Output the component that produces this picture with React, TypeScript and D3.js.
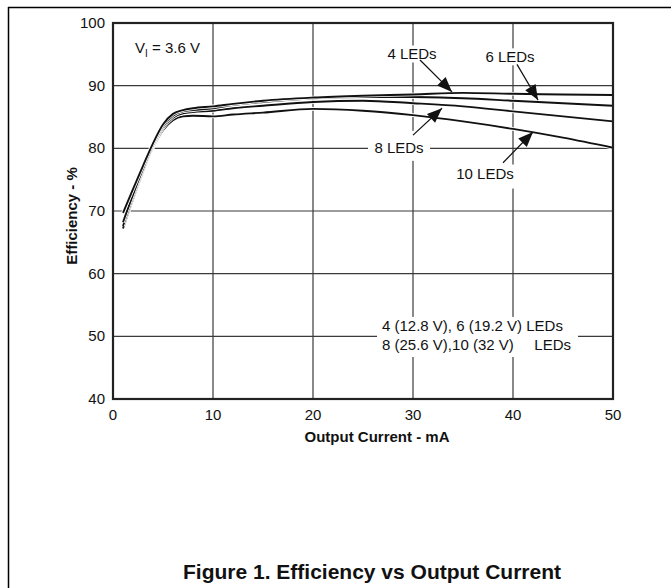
import React from "react";
import * as d3 from "d3";

// output current (mA) sampled along the curves
const current = [1, 2, 3, 4, 5, 6, 7, 8, 10, 12, 15, 20, 25, 30, 35, 40, 45, 50];

// efficiency (%)
const eff4 = [69.7, 73.5, 77.2, 80.8, 83.8, 85.5, 86.1, 86.4, 86.7, 87.1, 87.6, 88.1, 88.4, 88.6, 88.85, 88.7, 88.6, 88.5];
const eff6 = [68.2, 72.6, 76.7, 80.5, 83.5, 85.2, 85.9, 86.1, 86.4, 86.9, 87.4, 88.0, 88.2, 88.2, 88.0, 87.6, 87.2, 86.8];
const eff8 = [67.6, 72.2, 76.4, 80.3, 83.2, 84.9, 85.6, 85.8, 86.0, 86.4, 86.8, 87.4, 87.6, 87.2, 86.7, 85.9, 85.1, 84.3];
const eff10 = [67.2, 71.9, 76.2, 80.1, 82.9, 84.5, 85.1, 85.2, 85.1, 85.4, 85.7, 86.3, 86.0, 85.3, 84.3, 83.1, 81.7, 80.1];

const xTicks = [0, 10, 20, 30, 40, 50];
const yTicks = [40, 50, 60, 70, 80, 90, 100];

// curve labels with arrows, in data units: [text x, text y, arrow from x, y, arrow to x, y]
const labels = [
  { text: "4 LEDs", at: [29.9, 95.05], from: [30.7, 94.1], to: [33.9, 89.0] },
  { text: "6 LEDs", at: [39.7, 94.6], from: [40.4, 93.4], to: [42.5, 87.7] },
  { text: "8 LEDs", at: [28.6, 80.0], from: [30.0, 82.1], to: [32.9, 86.4] },
  { text: "10 LEDs", at: [37.2, 75.9], from: [39.0, 77.7], to: [42.0, 82.6] },
];

const W = 671;
const H = 588;
const font = "Arial, 'Liberation Sans', sans-serif";

function arrowHead(x1: number, y1: number, x2: number, y2: number) {
  const a = Math.atan2(y2 - y1, x2 - x1);
  const len = 15;
  const half = 6;
  const bx = x2 - len * Math.cos(a);
  const by = y2 - len * Math.sin(a);
  const px = -Math.sin(a) * half;
  const py = Math.cos(a) * half;
  return `M${x2},${y2}L${bx + px},${by + py}L${bx - px},${by - py}Z`;
}

export default function App() {
  const margin = { left: 113, right: 613, top: 23, bottom: 399 };
  const x = d3.scaleLinear().domain([0, 50]).range([margin.left, margin.right]);
  const y = d3.scaleLinear().domain([40, 100]).range([margin.bottom, margin.top]);

  const series = [eff10, eff8, eff6, eff4];
  const line = d3
    .line<number>()
    .x((_, i) => x(current[i]))
    .y((d) => y(d))
    .curve(d3.curveMonotoneX);

  const textBox = (cx: number, cy: number, w: number, h: number) => (
    <rect x={x(cx) - w / 2} y={y(cy) - h / 2} width={w} height={h} fill="#fff" />
  );

  return (
    <svg
      width={W}
      height={H}
      style={{ position: "absolute", left: 0, top: 0, background: "#fff" }}
      fontFamily={font}
    >
      {/* page frame */}
      <line x1={8} y1={7.5} x2={W} y2={7.5} stroke="#000" strokeWidth={1.5} />
      <line x1={8.5} y1={7} x2={8.5} y2={H} stroke="#000" strokeWidth={1.5} />

      {/* grid */}
      {xTicks.slice(1, -1).map((t) => (
        <line key={"gx" + t} x1={x(t)} x2={x(t)} y1={y(100)} y2={y(40)} stroke="#3a3a3a" strokeWidth={1.2} />
      ))}
      {yTicks.slice(1, -1).map((t) => (
        <line key={"gy" + t} x1={x(0)} x2={x(50)} y1={y(t)} y2={y(t)} stroke="#3a3a3a" strokeWidth={1.2} />
      ))}

      {/* white patches behind the texts */}
      {textBox(29.9, 95.05, 54, 17)}
      {textBox(39.7, 94.6, 54, 17)}
      {textBox(28.6, 80.4, 62, 30)}
      {textBox(37.2, 75.5, 66, 24)}
      <rect x={x(26.4)} y={y(53.1)} width={x(46.5) - x(26.4)} height={y(46.7) - y(53.1)} fill="#fff" />

      {/* curves */}
      {series.map((s, i) => (
        <g key={"s" + i}>
          <path d={line(s) || ""} fill="none" stroke="#fff" strokeWidth={3.6} />
          <path d={line(s) || ""} fill="none" stroke="#111" strokeWidth={1.9} />
        </g>
      ))}

      {/* frame of the plot */}
      <rect x={x(0)} y={y(100)} width={x(50) - x(0)} height={y(40) - y(100)} fill="none" stroke="#222" strokeWidth={2.2} />

      {/* tick labels */}
      {yTicks.map((t) => (
        <text key={"yl" + t} x={105} y={y(t) + 5} textAnchor="end" fontSize={15} fill="#111">
          {t}
        </text>
      ))}
      {xTicks.map((t) => (
        <text key={"xl" + t} x={x(t)} y={420} textAnchor="middle" fontSize={15} fill="#111">
          {t}
        </text>
      ))}

      {/* axis titles */}
      <text x={377} y={442} textAnchor="middle" fontSize={15} fontWeight="bold" fill="#111">
        Output Current - mA
      </text>
      <text
        transform="translate(77,216) rotate(-90)"
        textAnchor="middle"
        fontSize={15}
        fontWeight="bold"
        fill="#111"
      >
        Efficiency - %
      </text>

      {/* supply voltage */}
      <text x={x(2.2)} y={y(95.2)} fontSize={15} fill="#111">
        V<tspan fontSize={10} dy={4}>I</tspan>
        <tspan dy={-4}> = 3.6 V</tspan>
      </text>

      {/* curve labels and arrows */}
      {labels.map((l) => {
        const x1 = x(l.from[0]);
        const y1 = y(l.from[1]);
        const x2 = x(l.to[0]);
        const y2 = y(l.to[1]);
        return (
          <g key={l.text}>
            <text x={x(l.at[0])} y={y(l.at[1]) + 5} textAnchor="middle" fontSize={15} fill="#111">
              {l.text}
            </text>
            <line x1={x1} y1={y1} x2={x2} y2={y2} stroke="#111" strokeWidth={1.2} />
            <path d={arrowHead(x1, y1, x2, y2)} fill="#111" />
          </g>
        );
      })}

      {/* condition note */}
      <text x={x(26.9)} y={y(51.65) + 5} fontSize={15} fill="#111">
        4 (12.8 V), 6 (19.2 V) LEDs
      </text>
      <text x={x(26.9)} y={y(48.6) + 5} fontSize={15} fill="#111">
        8 (25.6 V),10 (32 V)
      </text>
      <text x={x(45.8)} y={y(48.6) + 5} textAnchor="end" fontSize={15} fill="#111">
        LEDs
      </text>

      {/* caption */}
      <text x={372} y={579} textAnchor="middle" fontSize={21} fontWeight="bold" fill="#111">
        Figure 1. Efficiency vs Output Current
      </text>
    </svg>
  );
}
